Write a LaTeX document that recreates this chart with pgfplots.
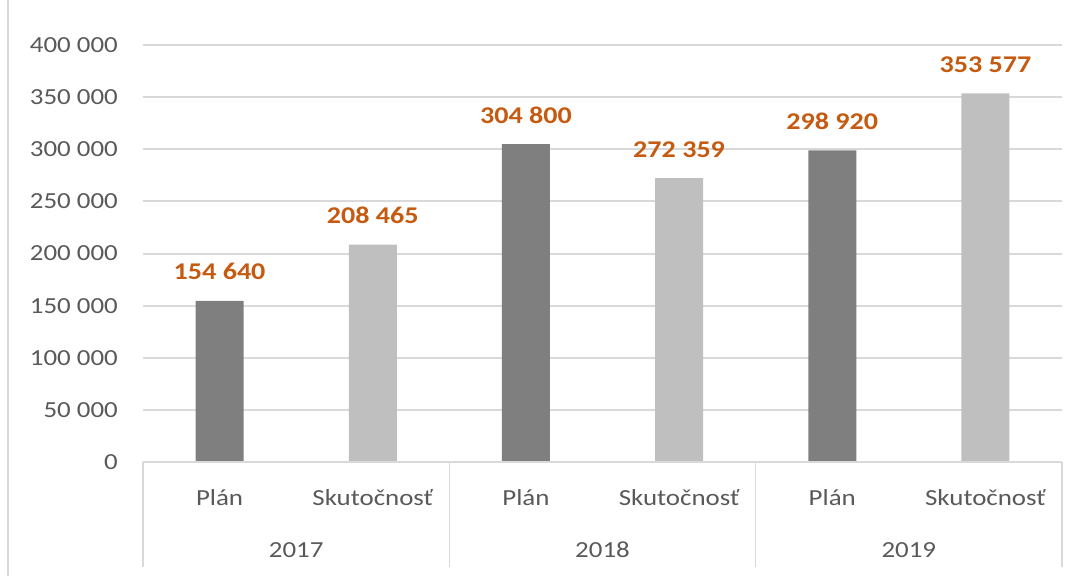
\documentclass[border=0pt]{standalone}
\usepackage{fontspec}
\setmainfont{Carlito}[FakeStretch=1.17]
\usepackage{pgfplots}
\pgfplotsset{compat=1.18}
\definecolor{txt}{HTML}{595959}
\definecolor{gridc}{HTML}{D9D9D9}
\definecolor{darkbar}{HTML}{7F7F7F}
\definecolor{lightbar}{HTML}{BFBFBF}
\definecolor{lab}{HTML}{C55A11}
\begin{document}
\begin{tikzpicture}
\useasboundingbox (0,0) rectangle (1086pt,576pt);
\draw[gridc, line width=1.5pt] (8pt,0) -- (8pt,576pt);
\begin{axis}[
  at={(143pt,114pt)}, anchor=south west,
  scale only axis, width=919pt, height=417pt,
  xmin=-0.5, xmax=5.5, ymin=0, ymax=400000,
  ytick={0,50000,...,400000},
  scaled y ticks=false,
  ymajorgrids,
  grid style={line width=2pt, gridc},
  axis line style={draw=none},
  major tick length=0pt,
  xtick={0,1,2,3,4,5},
  xticklabels={Plán,Skutočnosť,Plán,Skutočnosť,Plán,Skutočnosť},
  ticklabel style={font=\fontsize{23}{23}\selectfont, text=txt, inner sep=0pt},
  xticklabel style={anchor=base, yshift=-43pt},
  yticklabel style={anchor=east, xshift=-25pt},
  /pgf/number format/.cd, fixed, precision=0, 1000 sep={\ }, assume math mode=true, /pgfplots/.cd,
  ybar, bar width=48pt, bar shift=0pt,
  clip=false,
  nodes near coords,
  every node near coord/.append style={font=\bfseries\fontsize{24}{24}\selectfont, text=lab, anchor=base, yshift=21pt, inner sep=0pt},
]
\addplot[fill=darkbar, draw=none] coordinates {(0,154640) (2,304800) (4,298920)};
\addplot[fill=lightbar, draw=none] coordinates {(1,208465) (3,272359) (5,353577)};
\draw[gridc, line width=1.5pt] (axis cs:-0.5,0) -- (axis cs:5.5,0);
\draw[gridc, line width=1.5pt] (axis cs:-0.5,0) -- ++(0pt,-105pt);
\draw[gridc, line width=1.5pt] (axis cs:1.5,0) -- ++(0pt,-105pt);
\draw[gridc, line width=1.5pt] (axis cs:3.5,0) -- ++(0pt,-105pt);
\draw[gridc, line width=1.5pt] (axis cs:5.5,0) -- ++(0pt,-105pt);
\node[anchor=base, text=txt, font=\fontsize{23}{23}\selectfont, inner sep=0pt] at (axis cs:0.5,0) [yshift=-95.5pt] {2017};
\node[anchor=base, text=txt, font=\fontsize{23}{23}\selectfont, inner sep=0pt] at (axis cs:2.5,0) [yshift=-95.5pt] {2018};
\node[anchor=base, text=txt, font=\fontsize{23}{23}\selectfont, inner sep=0pt] at (axis cs:4.5,0) [yshift=-95.5pt] {2019};
\end{axis}
\end{tikzpicture}
\end{document}
